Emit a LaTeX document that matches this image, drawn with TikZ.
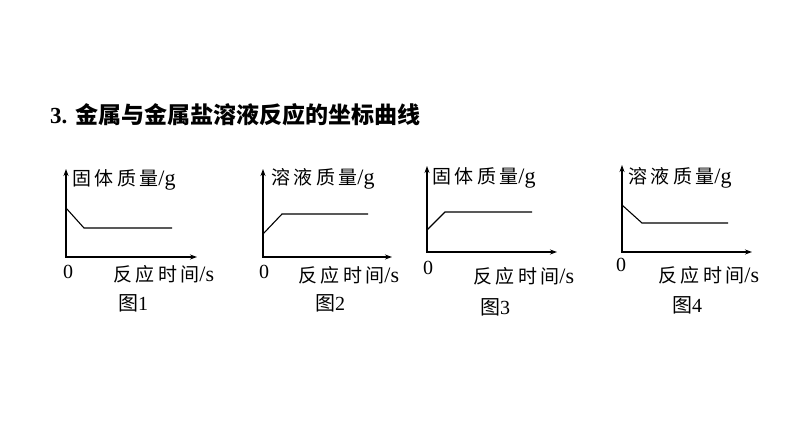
\documentclass[tikz,border=0pt]{standalone}
\usepackage{fontspec}
\setmainfont{Liberation Serif}
\newfontfamily\cjk{Noto Sans CJK SC}
\newfontfamily\cjksp{Noto Sans CJK SC}[LetterSpace=18]
\newcommand\unitpart[1]{{\fontsize{22}{22}\selectfont #1}}
\usetikzlibrary{arrows.meta,positioning}

\tikzset{
  axes/.style={line width=1.1pt,{Stealth[length=7pt,width=5pt]}-{Stealth[length=7pt,width=5pt]}},
  curve/.style={line width=1.1pt},
  lab/.style={inner sep=0pt,font=\fontsize{19}{19}\selectfont},
  num/.style={inner sep=0pt,font=\fontsize{20}{20}\selectfont},
}

\begin{document}
\begin{tikzpicture}[x=1pt,y=-1pt]
    \useasboundingbox (0,0) rectangle (794,447);

    % Title
    \node[anchor=west,inner sep=0pt,font=\fontsize{23}{23}\selectfont\bfseries] (title) at (50,115) {3. {\cjk 金属与金属盐溶液反应的坐标曲线}};

    % Graph 1
    \coordinate (o1) at (66,257); \coordinate (yt1) at (66,169); \coordinate (xt1) at (197,257);
    \coordinate (s1) at (66,208); \coordinate (k1) at (84,228); \coordinate (e1) at (172,228);
    \draw[axes] (yt1) -- (o1) -- (xt1);
    \draw[curve] (s1) -- (k1) -- (e1);
    \node[lab,anchor=west] (ylab1) at (72,180) {{\cjksp 固体质量}\unitpart{/g}};
    \node[num] (zero1) at (68,272) {0};
    \node[lab,anchor=west] (xlab1) at (113,274) {{\cjksp 反应时间}\unitpart{/s}};
    \node[num] (fig1) at (133,303) {{\cjk 图}1};

    % Graph 2
    \coordinate (o2) at (263,257); \coordinate (yt2) at (263,169); \coordinate (xt2) at (392,257);
    \coordinate (s2) at (263,234); \coordinate (k2) at (282,214); \coordinate (e2) at (368,214);
    \draw[axes] (yt2) -- (o2) -- (xt2);
    \draw[curve] (s2) -- (k2) -- (e2);
    \node[lab,anchor=west] (ylab2) at (271,179) {{\cjksp 溶液质量}\unitpart{/g}};
    \node[num] (zero2) at (264,272) {0};
    \node[lab,anchor=west] (xlab2) at (298,275) {{\cjksp 反应时间}\unitpart{/s}};
    \node[num] (fig2) at (330,303) {{\cjk 图}2};

    % Graph 3
    \coordinate (o3) at (427,252); \coordinate (yt3) at (427,166); \coordinate (xt3) at (557,252);
    \coordinate (s3) at (427,230); \coordinate (k3) at (445,212); \coordinate (e3) at (532,212);
    \draw[axes] (yt3) -- (o3) -- (xt3);
    \draw[curve] (s3) -- (k3) -- (e3);
    \node[lab,anchor=west] (ylab3) at (432,178) {{\cjksp 固体质量}\unitpart{/g}};
    \node[num] (zero3) at (428,268) {0};
    \node[lab,anchor=west] (xlab3) at (473,276) {{\cjksp 反应时间}\unitpart{/s}};
    \node[num] (fig3) at (495,307) {{\cjk 图}3};

    % Graph 4
    \coordinate (o4) at (622,252); \coordinate (yt4) at (622,165); \coordinate (xt4) at (752,252);
    \coordinate (s4) at (622,205); \coordinate (k4) at (642,223); \coordinate (e4) at (728,223);
    \draw[axes] (yt4) -- (o4) -- (xt4);
    \draw[curve] (s4) -- (k4) -- (e4);
    \node[lab,anchor=west] (ylab4) at (628,178) {{\cjksp 溶液质量}\unitpart{/g}};
    \node[num] (zero4) at (621,265) {0};
    \node[lab,anchor=west] (xlab4) at (658,275) {{\cjksp 反应时间}\unitpart{/s}};
    \node[num] (fig4) at (687,305) {{\cjk 图}4};
\end{tikzpicture}
\end{document}
